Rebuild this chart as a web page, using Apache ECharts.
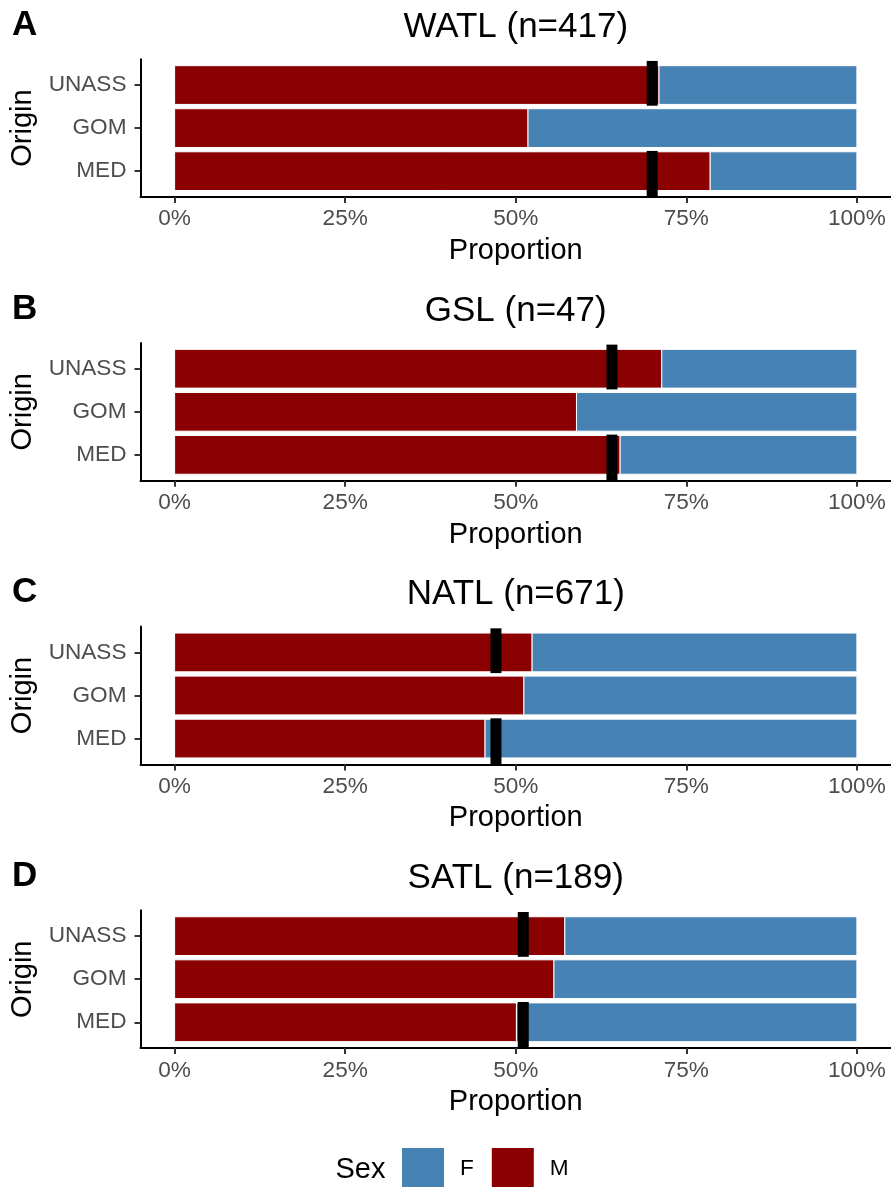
<!DOCTYPE html>
<html><head><meta charset="utf-8">
<script src="https://cdn.jsdelivr.net/npm/echarts@6/dist/echarts.min.js"></script>
<style>html,body{margin:0;padding:0;background:#fff}#c{width:891px;height:1187px}</style>
</head><body><div id="c"></div>
<script>
// ---- data ----
const categories = ['MED', 'GOM', 'UNASS'];
const panelTitles = ['WATL (n=417)', 'GSL (n=47)', 'NATL (n=671)', 'SATL (n=189)'];
const panelLetters = ['A', 'B', 'C', 'D'];
// proportion of males per origin (order MED, GOM, UNASS)
const maleWATL = [0.785, 0.518, 0.710];
const maleGSL  = [0.653, 0.589, 0.714];
const maleNATL = [0.455, 0.512, 0.524];
const maleSATL = [0.501, 0.556, 0.572];
// black reference marks (null = none)
const markWATL = [0.700, null, 0.700];
const markGSL  = [0.641, null, 0.641];
const markNATL = [0.471, null, 0.471];
const markSATL = [0.511, null, 0.511];
const xTickValues = [0, 0.25, 0.5, 0.75, 1];
const legendLabels = ['F', 'M'];

// ---- layout / style ----
const FONT = '"Liberation Sans", Arial, Helvetica, sans-serif';
const RED = '#8B0000', BLUE = '#4682B4';
const PANEL_DY = 283.7, GRID_TOP = 59.2, GRID_H = 137.8, GRID_L = 140.5, GRID_W = 750.5;
const BAR_HALF = 0.45;
const MARK_SPAN = {0: [-0.59, 0.47], 2: [-0.48, 0.56]};
const MARK_W = 11;

const panels = [
  {title: panelTitles[0], letter: panelLetters[0], male: maleWATL, mark: markWATL},
  {title: panelTitles[1], letter: panelLetters[1], male: maleGSL,  mark: markGSL},
  {title: panelTitles[2], letter: panelLetters[2], male: maleNATL, mark: markNATL},
  {title: panelTitles[3], letter: panelLetters[3], male: maleSATL, mark: markSATL}
];

function barRender(params, api) {
  const i = api.value(0);
  const p0 = api.coord([api.value(1), i + BAR_HALF]);
  const p1 = api.coord([api.value(2), i - BAR_HALF]);
  return {
    type: 'rect',
    shape: {x: p0[0], y: p0[1], width: p1[0] - p0[0], height: p1[1] - p0[1]},
    style: {fill: api.visual('color'), stroke: '#ffffff', lineWidth: 1}
  };
}
function markRender(params, api) {
  const i = api.value(0);
  const v = api.value(1);
  const span = MARK_SPAN[i] || [-0.5, 0.5];
  const top = api.coord([v, i + span[1]]);
  const bot = api.coord([v, i + span[0]]);
  return {
    type: 'rect',
    shape: {x: top[0] - MARK_W / 2, y: top[1], width: MARK_W, height: bot[1] - top[1]},
    style: {fill: '#000000'}
  };
}

const grids = [], xAxes = [], yAxes = [], series = [], graphics = [];
panels.forEach((p, k) => {
  const top = GRID_TOP + k * PANEL_DY;
  grids.push({left: GRID_L, top: top, width: GRID_W, height: GRID_H});
  xAxes.push({
    type: 'value', gridIndex: k, min: -0.05, max: 1.05,
    name: 'Proportion', nameLocation: 'middle', nameGap: 39.5,
    nameTextStyle: {fontFamily: FONT, fontSize: 29, color: '#000'},
    axisLine: {show: true, onZero: false, lineStyle: {color: '#000', width: 2}},
    axisTick: {show: true, length: 6, lineStyle: {color: '#333', width: 2}, customValues: xTickValues},
    axisLabel: {customValues: xTickValues, formatter: v => Math.round(v * 100) + '%',
      fontFamily: FONT, fontSize: 22.6, color: '#4D4D4D', margin: 10.7},
    splitLine: {show: false}
  });
  yAxes.push({
    type: 'value', gridIndex: k, min: -0.6, max: 2.6,
    name: 'Origin', nameLocation: 'middle', nameGap: 103.5, nameRotate: 90,
    nameTextStyle: {fontFamily: FONT, fontSize: 29, color: '#000'},
    axisLine: {show: true, onZero: false, lineStyle: {color: '#000', width: 2}},
    axisTick: {show: true, length: 6, lineStyle: {color: '#333', width: 2}, customValues: [0, 1, 2]},
    axisLabel: {customValues: [0, 1, 2], formatter: v => categories[Math.round(v)],
      fontFamily: FONT, fontSize: 22.6, color: '#4D4D4D', margin: 14},
    splitLine: {show: false}
  });
  series.push({
    name: 'M', type: 'custom', xAxisIndex: k, yAxisIndex: k, renderItem: barRender,
    itemStyle: {color: RED}, encode: {x: [1, 2], y: 0}, z: 2,
    data: categories.map((c, i) => [i, 0, p.male[i]])
  });
  series.push({
    name: 'F', type: 'custom', xAxisIndex: k, yAxisIndex: k, renderItem: barRender,
    itemStyle: {color: BLUE}, encode: {x: [1, 2], y: 0}, z: 2,
    data: categories.map((c, i) => [i, p.male[i], 1])
  });
  series.push({
    name: 'mark', type: 'custom', xAxisIndex: k, yAxisIndex: k, renderItem: markRender,
    itemStyle: {color: '#000'}, encode: {x: 1, y: 0}, z: 3, clip: false,
    data: p.mark.map((v, i) => v == null ? null : [i, v]).filter(d => d)
  });
  graphics.push({
    type: 'text', x: 12, y: 25.2 + k * PANEL_DY,
    style: {text: p.letter, font: 'bold 35px ' + FONT, fill: '#000', textAlign: 'left', textVerticalAlign: 'middle'}
  });
  graphics.push({
    type: 'text', x: GRID_L + GRID_W / 2, y: 27.2 + k * PANEL_DY,
    style: {text: p.title, font: '35px ' + FONT, fill: '#000', textAlign: 'center', textVerticalAlign: 'middle'}
  });
});
graphics.push({
  type: 'text', x: 335.5, y: 1169.5,
  style: {text: 'Sex', font: '29px ' + FONT, fill: '#000', textAlign: 'left', textVerticalAlign: 'middle'}
});

const chart = echarts.init(document.getElementById('c'));
chart.setOption({
  animation: false,
  backgroundColor: '#ffffff',
  grid: grids, xAxis: xAxes, yAxis: yAxes, series: series, graphic: graphics,
  legend: {
    data: legendLabels, left: 402, top: 1148, orient: 'horizontal',
    itemWidth: 42, itemHeight: 42, itemGap: 18, padding: 0, icon: 'rect',
    selectedMode: false, itemStyle: {borderWidth: 0},
    textStyle: {fontFamily: FONT, fontSize: 22.6, color: '#000', padding: [0, 0, 0, 11]}
  }
});
</script>
</body></html>
